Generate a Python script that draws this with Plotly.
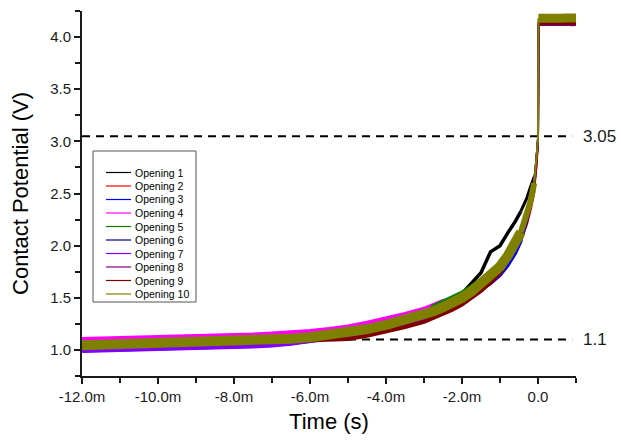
import plotly.graph_objects as go

# ---------------- data ----------------
time_ms = [-12, -11.5, -11, -10.5, -10, -9.5, -9, -8.5, -8, -7.5, -7, -6.5, -6, -5.5, -5,
           -4.5, -4, -3.5, -3, -2.75, -2.5, -2.25, -2, -1.75, -1.5, -1.25, -1,
           -0.8, -0.6, -0.45, -0.3, -0.2, -0.1, -0.05, 0, 0.01,
           0.15, 0.3, 0.45, 0.6, 0.75, 0.9, 1.0]

series_names = ["Opening 1", "Opening 2", "Opening 3", "Opening 4", "Opening 5",
                "Opening 6", "Opening 7", "Opening 8", "Opening 9", "Opening 10"]

opening_1 = [1.040, 1.046, 1.043, 1.050, 1.053, 1.058, 1.062, 1.068, 1.074, 1.083, 1.094, 1.104,
             1.118, 1.137, 1.162, 1.197, 1.238, 1.285, 1.345, 1.385, 1.430, 1.480, 1.540, 1.640,
             1.740, 1.940, 2.000, 2.120, 2.230, 2.330, 2.450, 2.560, 2.660, 2.760, 3.000,
             4.140, 4.145, 4.138, 4.146, 4.140, 4.144, 4.138, 4.142]
opening_2 = [1.025, 1.030, 1.028, 1.035, 1.038, 1.042, 1.047, 1.052, 1.058, 1.068, 1.078, 1.088,
             1.102, 1.120, 1.145, 1.155, 1.195, 1.240, 1.290, 1.325, 1.365, 1.405, 1.455, 1.515,
             1.585, 1.665, 1.755, 1.830, 1.950, 2.060, 2.210, 2.350, 2.530, 2.710, 2.980,
             4.130, 4.130, 4.125, 4.132, 4.128, 4.131, 4.126, 4.130]
opening_3 = [0.995, 1.000, 0.998, 1.005, 1.008, 1.012, 1.017, 1.022, 1.028, 1.038, 1.048, 1.062,
             1.085, 1.115, 1.145, 1.180, 1.220, 1.265, 1.315, 1.350, 1.390, 1.430, 1.480, 1.530,
             1.590, 1.640, 1.720, 1.810, 1.930, 2.050, 2.220, 2.380, 2.580, 2.770, 3.010,
             4.125, 4.127, 4.123, 4.130, 4.125, 4.128, 4.122, 4.126]
opening_4 = [1.105, 1.110, 1.108, 1.115, 1.118, 1.122, 1.127, 1.132, 1.138, 1.148, 1.158, 1.168,
             1.182, 1.200, 1.225, 1.260, 1.300, 1.345, 1.395, 1.430, 1.470, 1.480, 1.530, 1.590,
             1.660, 1.740, 1.830, 1.900, 2.020, 2.130, 2.280, 2.420, 2.600, 2.780, 3.010,
             4.135, 4.137, 4.132, 4.140, 4.135, 4.138, 4.133, 4.136]
opening_5 = [1.047, 1.049, 1.050, 1.054, 1.060, 1.061, 1.068, 1.071, 1.080, 1.087, 1.099, 1.107,
             1.123, 1.139, 1.166, 1.199, 1.241, 1.284, 1.336, 1.420, 1.460, 1.500, 1.550, 1.610,
             1.680, 1.740, 1.830, 1.930, 2.020, 2.130, 2.280, 2.420, 2.600, 2.780, 3.020,
             4.140, 4.142, 4.137, 4.145, 4.140, 4.143, 4.138, 4.141]
opening_6 = [1.035, 1.040, 1.038, 1.045, 1.048, 1.052, 1.057, 1.062, 1.068, 1.078, 1.088, 1.098,
             1.112, 1.130, 1.155, 1.190, 1.230, 1.275, 1.325, 1.360, 1.400, 1.440, 1.490, 1.550,
             1.620, 1.670, 1.760, 1.860, 1.980, 2.110, 2.260, 2.400, 2.580, 2.760, 3.000,
             4.130, 4.130, 4.126, 4.133, 4.129, 4.132, 4.126, 4.130]
opening_7 = [0.990, 0.995, 0.993, 1.000, 1.003, 1.007, 1.012, 1.017, 1.023, 1.033, 1.043, 1.058,
             1.085, 1.108, 1.135, 1.170, 1.210, 1.255, 1.305, 1.340, 1.380, 1.420, 1.470, 1.530,
             1.600, 1.680, 1.770, 1.870, 1.990, 2.100, 2.250, 2.390, 2.570, 2.750, 3.030,
             4.125, 4.125, 4.121, 4.128, 4.124, 4.127, 4.121, 4.125]
opening_8 = [1.046, 1.049, 1.049, 1.054, 1.059, 1.061, 1.068, 1.071, 1.079, 1.087, 1.099, 1.107,
             1.123, 1.139, 1.166, 1.199, 1.241, 1.284, 1.336, 1.369, 1.411, 1.449, 1.501, 1.559,
             1.631, 1.709, 1.801, 1.899, 2.021, 2.129, 2.281, 2.419, 2.601, 2.779, 3.040,
             4.140, 4.140, 4.135, 4.143, 4.138, 4.141, 4.136, 4.140]
opening_9 = [1.025, 1.030, 1.028, 1.035, 1.038, 1.042, 1.047, 1.052, 1.058, 1.068, 1.078, 1.085,
             1.090, 1.095, 1.105, 1.135, 1.175, 1.220, 1.270, 1.305, 1.345, 1.385, 1.435, 1.495,
             1.565, 1.645, 1.735, 1.860, 1.980, 2.090, 2.240, 2.380, 2.560, 2.740, 3.000,
             4.130, 4.130, 4.125, 4.132, 4.128, 4.131, 4.126, 4.130]
opening_10 = [1.045, 1.050, 1.048, 1.055, 1.058, 1.062, 1.067, 1.072, 1.078, 1.088, 1.098, 1.108,
              1.122, 1.140, 1.165, 1.200, 1.240, 1.285, 1.335, 1.370, 1.410, 1.450, 1.500, 1.560,
              1.630, 1.710, 1.800, 1.900, 2.020, 2.130, 2.280, 2.420, 2.600, 2.780, 3.020,
              4.180, 4.185, 4.178, 4.186, 4.180, 4.184, 4.179, 4.183]

series_values = [opening_1, opening_2, opening_3, opening_4, opening_5,
                 opening_6, opening_7, opening_8, opening_9, opening_10]

series_colors = ["#000000", "#FF0000", "#0000FF", "#FF00FF", "#008000",
                 "#000080", "#8000FF", "#800080", "#800000", "#808000"]

ref_levels = [3.05, 1.1]
ref_labels = ["3.05", "1.1"]
ref_start_ms = [-12, -5]

x_tick_vals = [-12, -10, -8, -6, -4, -2, 0]
x_tick_text = ["-12.0m", "-10.0m", "-8.0m", "-6.0m", "-4.0m", "-2.0m", "0.0"]
y_tick_vals = [1.0, 1.5, 2.0, 2.5, 3.0, 3.5, 4.0]

# ---------------- styling / layout helpers ----------------
FONT = "Liberation Sans, Arial, sans-serif"
W, H = 621, 443
ML, MR, MT, MB = 82, 45, 11, 67
PW, PH = W - ML - MR, H - MT - MB


def px_x(px):
    return (px - ML) / PW


def px_y(py):
    return (H - MB - py) / PH


fig = go.Figure()

# segment split indices: noisy band, narrowing knee, steep rise + jump, plateau
i_knee = time_ms.index(-0.45)
i_rise = time_ms.index(-0.1)
i_plat = time_ms.index(0.01)

for k, (name, vals, col) in enumerate(zip(series_names, series_values, series_colors)):
    is_top = (k == len(series_names) - 1)
    band_w = 10 if is_top else (3.5 if k == 0 else 4)
    segs = [
        (0, i_knee + 1, band_w),
        (i_knee, i_rise + 1, 6 if is_top else 3),
        (i_rise, i_plat + 1, 2),
        (i_plat, len(time_ms), 9 if is_top else 4),
    ]
    for a, b, w in segs:
        fig.add_trace(go.Scatter(
            x=time_ms[a:b], y=vals[a:b], mode="lines", name=name,
            legendgroup=name, showlegend=False,
            line=dict(color=col, width=w), hoverinfo="skip",
        ))

shapes = []
annotations = []

# reference dashed lines and their labels
for lvl, lab, x0 in zip(ref_levels, ref_labels, ref_start_ms):
    shapes.append(dict(type="line", xref="x", yref="y", x0=x0, x1=0.9, y0=lvl, y1=lvl,
                       line=dict(color="#000000", width=2, dash="8px,6px"), layer="below"))
    annotations.append(dict(text=lab, xref="paper", yref="y", x=px_x(581), y=lvl,
                            xanchor="left", yanchor="middle", showarrow=False,
                            font=dict(family=FONT, size=17, color="#1a1a1a")))

# legend box (drawn to match the compact original legend)
shapes.append(dict(type="rect", xref="paper", yref="paper",
                   x0=px_x(93), x1=px_x(196), y0=px_y(302), y1=px_y(151),
                   line=dict(color="#555555", width=1), fillcolor="white", layer="above"))
for i, (name, col) in enumerate(zip(series_names, series_colors)):
    yy = px_y(172.5 + 13.5 * i)
    shapes.append(dict(type="line", xref="paper", yref="paper",
                       x0=px_x(106), x1=px_x(131), y0=yy, y1=yy,
                       line=dict(color=col, width=1.2), layer="above"))
    annotations.append(dict(text=name, xref="paper", yref="paper", x=px_x(133), y=yy,
                            xanchor="left", yanchor="middle", showarrow=False,
                            font=dict(family=FONT, size=10.5, color="#000000")))

fig.update_layout(
    width=W, height=H,
    margin=dict(l=ML, r=MR, t=MT, b=MB, autoexpand=False),
    paper_bgcolor="white", plot_bgcolor="white",
    showlegend=False,
    font=dict(family=FONT, color="#1a1a1a"),
    shapes=shapes, annotations=annotations,
)

fig.update_xaxes(
    range=[-12, 1], showgrid=False, zeroline=False,
    showline=True, linecolor="#1a1a1a", linewidth=2,
    ticks="outside", ticklen=6, tickwidth=1.5, tickcolor="#1a1a1a",
    tickvals=x_tick_vals, ticktext=x_tick_text,
    tickfont=dict(family=FONT, size=15, color="#1a1a1a"),
    minor=dict(ticks="outside", ticklen=5, tickwidth=1.5, tickcolor="#1a1a1a",
               dtick=1, tick0=0, showgrid=False),
    title=dict(text="Time (s)", font=dict(family=FONT, size=22, color="#000000"), standoff=10),
)
fig.update_yaxes(
    range=[0.75, 4.25], showgrid=False, zeroline=False,
    showline=True, linecolor="#1a1a1a", linewidth=2,
    ticks="outside", ticklen=6, tickwidth=1.5, tickcolor="#1a1a1a",
    tickvals=y_tick_vals, tickformat=".1f",
    tickfont=dict(family=FONT, size=15, color="#1a1a1a"),
    minor=dict(ticks="outside", ticklen=5, tickwidth=1.5, tickcolor="#1a1a1a",
               dtick=0.25, tick0=0, showgrid=False),
    title=dict(text="Contact Potential (V)", font=dict(family=FONT, size=22, color="#000000"),
               standoff=15),
)

fig.write_html("out.html")
